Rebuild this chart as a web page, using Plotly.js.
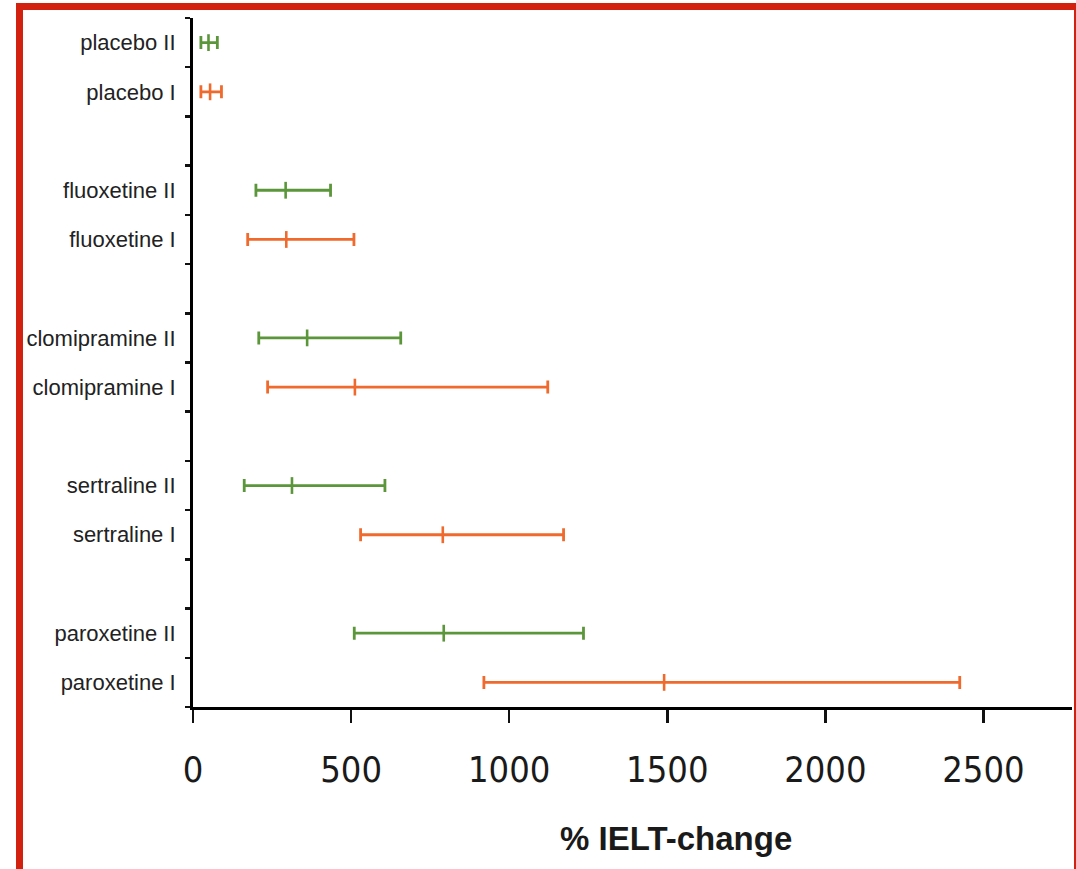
<!DOCTYPE html>
<html>
<head>
<meta charset="utf-8">
<script src="https://cdn.plot.ly/plotly-3.0.1.min.js"></script>
<style>
  html, body { margin: 0; padding: 0; background: #ffffff; }
  #wrap { position: relative; width: 1076px; height: 869px; overflow: hidden; }
  #chart { position: absolute; left: 0; top: 0; width: 1076px; height: 869px; }
  #frame { position: absolute; left: 16px; top: 3px; width: 1051px; height: 900px;
           border-left: 7px solid #d2210f; border-top: 7px solid #d2210f; border-right: 7px solid #d2210f;
           pointer-events: none; }
</style>
</head>
<body>
<div id="wrap">
  <div id="chart"></div>
  <div id="frame"></div>
</div>
<script>
// Category order from bottom to top (blank entries are the gaps between drug groups)
const categoryOrder = [
  "paroxetine I", "paroxetine II", " ",
  "sertraline I", "sertraline II", "  ",
  "clomipramine I", "clomipramine II", "   ",
  "fluoxetine I", "fluoxetine II", "    ",
  "placebo I", "placebo II"
];

// Study I (orange)
const studyI_labels = ["placebo I", "fluoxetine I", "clomipramine I", "sertraline I", "paroxetine I"];
const studyI_low    = [25, 173, 236, 530, 920];
const studyI_mid    = [54, 295, 512, 790, 1490];
const studyI_high   = [90, 509, 1122, 1172, 2425];

// Study II (green)
const studyII_labels = ["placebo II", "fluoxetine II", "clomipramine II", "sertraline II", "paroxetine II"];
const studyII_low    = [25, 199, 208, 162, 510];
const studyII_mid    = [49, 293, 361, 313, 793];
const studyII_high   = [77, 435, 657, 607, 1235];

const xTicks = [0, 500, 1000, 1500, 2000, 2500];

const ORANGE = "#ef6a2c";
const GREEN = "#5b963a";
const sans = "'Liberation Sans', Arial, sans-serif";
const cond = "'DejaVu Sans Condensed', 'Liberation Sans', sans-serif";

function makeTrace(labels, lo, mid, hi, color, name) {
  return {
    type: "scatter",
    mode: "markers",
    name: name,
    x: mid,
    y: labels,
    marker: { symbol: "line-ns", size: 12, color: color, line: { color: color, width: 2.6 } },
    error_x: {
      type: "data",
      symmetric: false,
      array: hi.map((h, i) => h - mid[i]),
      arrayminus: mid.map((m, i) => m - lo[i]),
      color: color,
      thickness: 2.8,
      width: 6.5
    },
    hoverinfo: "x+y",
    showlegend: false
  };
}

const data = [
  makeTrace(studyI_labels, studyI_low, studyI_mid, studyI_high, ORANGE, "Study I"),
  makeTrace(studyII_labels, studyII_low, studyII_mid, studyII_high, GREEN, "Study II")
];

const layout = {
  width: 1076,
  height: 869,
  margin: { l: 193, r: 4, t: 18, b: 162 },
  paper_bgcolor: "#ffffff",
  plot_bgcolor: "#ffffff",
  showlegend: false,
  xaxis: {
    range: [0, 2780],
    tickvals: xTicks,
    ticktext: xTicks.map(String),
    showgrid: false,
    zeroline: false,
    showline: true,
    linecolor: "#000000",
    linewidth: 3,
    ticks: "outside",
    ticklen: 13,
    tickwidth: 2.5,
    tickcolor: "#111111",
    ticklabelstandoff: 16,
    tickfont: { family: cond, size: 36, color: "#1a1a1a" },
    fixedrange: true
  },
  yaxis: {
    type: "category",
    categoryorder: "array",
    categoryarray: categoryOrder,
    tickvals: categoryOrder,
    range: [-0.5, categoryOrder.length - 0.5],
    tickson: "boundaries",
    ticks: "outside",
    ticklen: 5,
    tickwidth: 2.5,
    tickcolor: "#111111",
    showgrid: false,
    zeroline: false,
    showline: true,
    linecolor: "#000000",
    linewidth: 3,
    ticklabelstandoff: 10,
    tickfont: { family: sans, size: 22, color: "#222222" },
    fixedrange: true
  },
  annotations: [{
    text: "% IELT-change",
    xref: "paper", yref: "paper",
    x: 0.549, y: -0.191,
    xanchor: "center", yanchor: "middle",
    showarrow: false,
    font: { family: sans, size: 33, color: "#1a1a1a", weight: "bold" }
  }]
};

Plotly.newPlot("chart", data, layout, { displayModeBar: false, staticPlot: true });
</script>
</body>
</html>
